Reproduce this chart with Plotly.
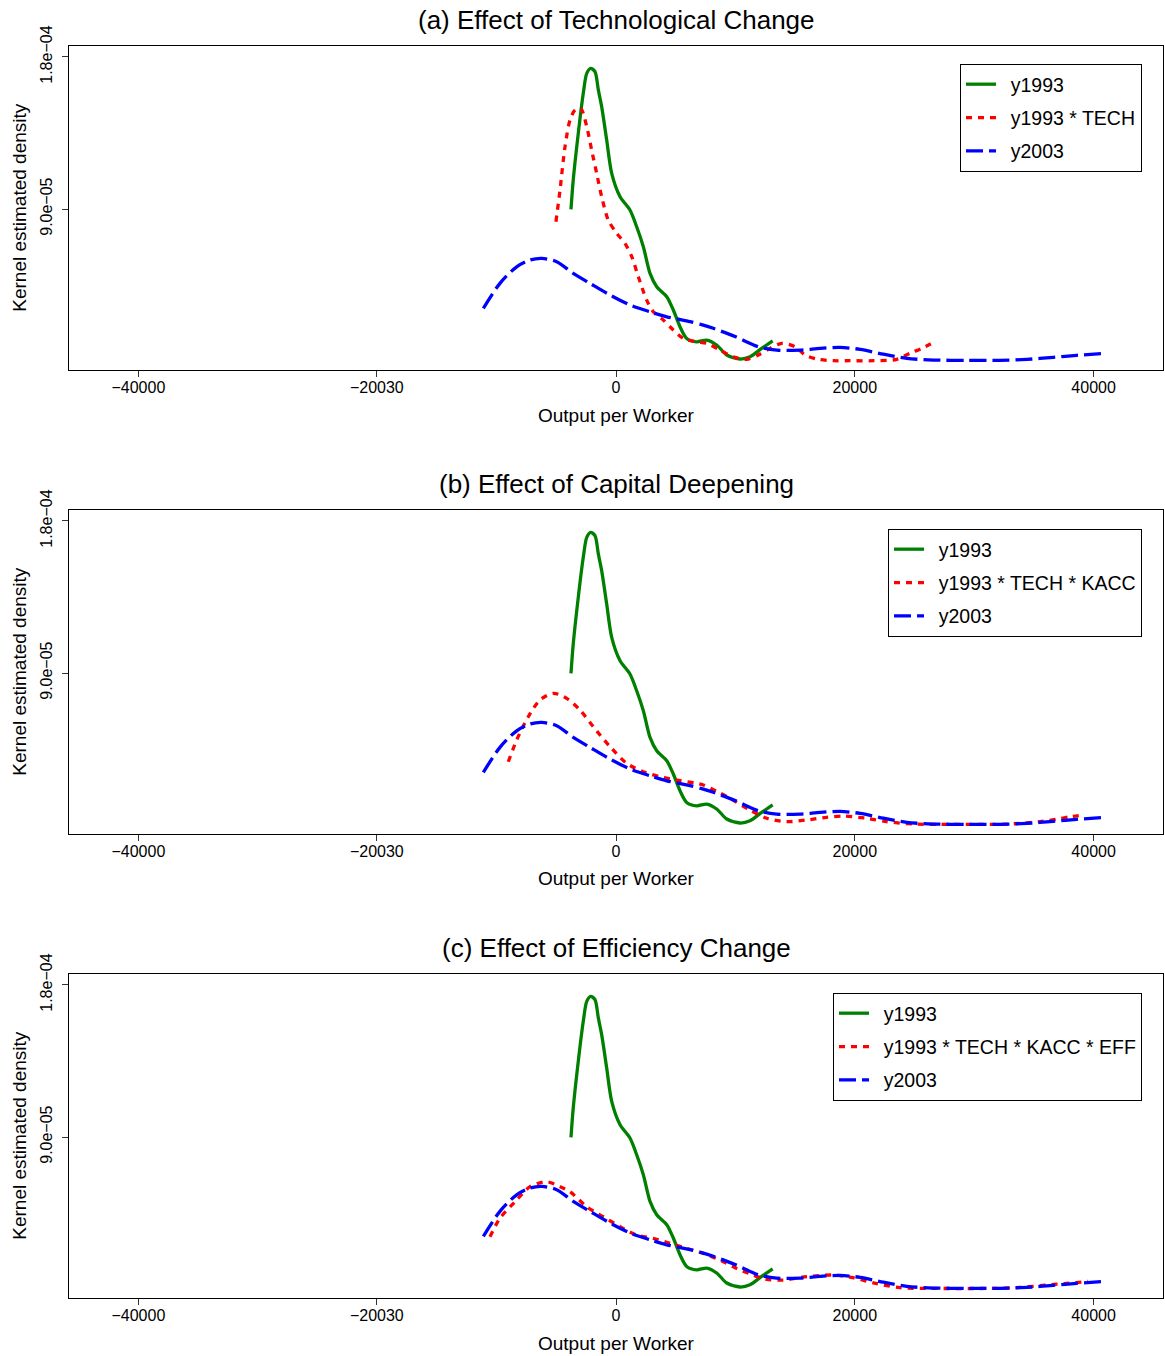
import plotly.graph_objects as go

# ---------------- data (density values in units of 1e-5) ----------------
DENSITY_UNIT = 1e-5

# y1993 (identical in every panel)
y1993_x = [-3770, -3580, -3160, -2740, -2450, -2120, -1760, -1480, -1200, -780, -360, 340,
           1170, 1730, 2290, 2850, 3410, 4250, 4800, 5360, 5920, 6760, 7600, 8430, 9270,
           10390, 11220, 12200, 13120]
y1993_d = [8.98, 10.72, 13.48, 15.85, 17.03, 17.33, 17.13, 16.05, 15.06, 13.09, 11.11, 9.73,
           8.94, 7.95, 6.77, 5.19, 4.40, 3.81, 3.02, 2.03, 1.34, 1.14, 1.24, 0.95, 0.36,
           0.12, 0.25, 0.75, 1.20]

# y2003 (identical in every panel)
y2003_x = [-11110, -9720, -8320, -7200, -6220, -4970, -3580, -2180, -500, 1170, 2850, 4250,
           6200, 7310, 8150, 9970, 11890, 13460, 15410, 17090, 18760, 20440, 22390, 24350,
           26570, 29370, 32160, 34400, 36620, 38580, 41100]
y2003_d = [3.12, 4.60, 5.58, 5.98, 6.08, 5.88, 5.19, 4.60, 3.91, 3.32, 2.92, 2.62,
           2.33, 2.13, 1.94, 1.45, 0.85, 0.65, 0.65, 0.75, 0.81, 0.69, 0.41, 0.16,
           0.06, 0.04, 0.04, 0.10, 0.22, 0.34, 0.46]

# y1993 * TECH
tech_x = [-5030, -4690, -4270, -3850, -3430, -2960, -2450, -2040, -1620, -1200, -650, 60,
          750, 1320, 1870, 2570, 3120, 3960, 4800, 5640, 6760, 7600, 8710, 9820, 10950,
          11920, 12900, 13880, 14990, 15830, 16940, 18200, 19600, 21550, 23510, 24620,
          25600, 26520]
tech_d = [8.25, 10.12, 12.69, 14.27, 14.86, 14.96, 13.87, 12.49, 11.11, 9.73, 8.35, 7.56,
          6.97, 6.18, 4.99, 3.61, 2.92, 2.43, 1.84, 1.34, 1.14, 1.05, 0.65, 0.25, 0.10,
          0.36, 0.75, 1.05, 0.85, 0.36, 0.10, 0.02, 0.02, 0.02, 0.10, 0.46,
          0.75, 1.08]

# y1993 * TECH * KACC
kacc_x = [-9020, -8320, -7350, -6370, -5250, -4130, -3020, -1900, -500, 900, 2290, 3690,
          5080, 6760, 7310, 8430, 9550, 11220, 12620, 14300, 15970, 17650, 19040, 21000,
          22670, 24900, 27140, 29920, 32160, 33840, 35510, 36910, 38020, 39140]
kacc_d = [3.75, 5.03, 6.41, 7.40, 7.80, 7.50, 6.81, 5.82, 4.64, 3.65, 3.16, 2.86,
          2.66, 2.47, 2.37, 2.00, 1.58, 0.89, 0.40, 0.20, 0.30, 0.46, 0.53, 0.40,
          0.20, 0.06, 0.04, 0.04, 0.04, 0.10, 0.20, 0.34, 0.49, 0.59]

# y1993 * TECH * KACC * EFF
eff_x = [-10550, -9720, -8320, -7200, -5800, -4690, -3850, -2450, -1060, 340, 1730, 3120,
         4520, 5920, 7310, 8710, 10110, 11220, 12620, 14010, 15970, 18200, 19870, 21550,
         23790, 26020, 31600, 33840, 36070, 37750, 39530]
eff_d = [3.10, 4.19, 5.27, 6.06, 6.35, 6.06, 5.76, 4.87, 4.28, 3.69, 3.20, 3.00,
         2.71, 2.41, 2.11, 1.72, 1.22, 0.90, 0.57, 0.53, 0.73, 0.83, 0.67, 0.37,
         0.08, 0.04, 0.04, 0.10, 0.24, 0.34, 0.45]

panel_titles = ["(a) Effect of Technological Change",
                "(b) Effect of Capital Deepening",
                "(c) Effect of Efficiency Change"]
counterfactual_names = ["y1993 * TECH", "y1993 * TECH * KACC", "y1993 * TECH * KACC * EFF"]
counterfactual_x = [tech_x, kacc_x, eff_x]
counterfactual_d = [tech_d, kacc_d, eff_d]

x_tickvals = [-40000, -20030, 0, 20000, 40000]
x_ticktext = ["\u221240000", "\u221220030", "0", "20000", "40000"]
y_tickvals = [9.0e-05, 1.8e-04]
y_ticktext = ["9.0e\u221205", "1.8e\u221204"]
x_label = "Output per Worker"
y_label = "Kernel estimated density"

# ---------------- layout geometry ----------------
W, H = 1165, 1356
FONT = "Liberation Sans, Arial, Helvetica, sans-serif"
L, R = 69, 2
plot_w = W - L - R
panel_top_px = [45.5, 509.5, 973.5]
panel_h_px = 324.5
title_px = [20, 484, 948]
xlab_px = [415, 879, 1343]
legend_top_px = [64, 529, 993]
legend_right_px = 1142
ylab_px = 20
GAP = "\u2002"  # spacing between legend key and its label


def py(p):
    return 1 - p / H


def scale(vals):
    return [v * DENSITY_UNIT for v in vals]


fig = go.Figure()
annotations = []
layout_axes = {}

for i in range(3):
    sfx = "" if i == 0 else str(i + 1)
    xa, ya = "x" + sfx, "y" + sfx
    leg = "legend" + sfx
    fig.add_trace(go.Scatter(
        x=y1993_x, y=scale(y1993_d), mode="lines", name=GAP + "y1993",
        line=dict(color="#008000", width=3.3, shape="spline", smoothing=0.8),
        xaxis=xa, yaxis=ya, legend=leg, legendgroup=f"g{i}a"))
    fig.add_trace(go.Scatter(
        x=counterfactual_x[i], y=scale(counterfactual_d[i]), mode="lines",
        name=GAP + counterfactual_names[i],
        line=dict(color="#FF0000", width=3.3, dash="6px,6px", shape="spline", smoothing=0.8),
        xaxis=xa, yaxis=ya, legend=leg, legendgroup=f"g{i}b"))
    fig.add_trace(go.Scatter(
        x=y2003_x, y=scale(y2003_d), mode="lines", name=GAP + "y2003",
        line=dict(color="#0000FF", width=3.3, dash="17px,6px", shape="spline", smoothing=0.8),
        xaxis=xa, yaxis=ya, legend=leg, legendgroup=f"g{i}c"))

    top = panel_top_px[i]
    bot = top + panel_h_px
    layout_axes["xaxis" + sfx] = dict(
        domain=[0, 1], anchor=ya, range=[-45811, 45811],
        tickvals=x_tickvals, ticktext=x_ticktext, ticks="outside", ticklen=6,
        tickcolor="#333", tickwidth=1, showgrid=False, zeroline=False,
        showline=True, linecolor="black", linewidth=1, mirror=True,
        ticklabelstandoff=-3,
        tickfont=dict(family=FONT, size=16, color="black"), automargin=False)
    layout_axes["yaxis" + sfx] = dict(
        domain=[py(bot), py(top)], anchor=xa, range=[-0.53e-5, 18.68e-5],
        tickvals=y_tickvals, ticktext=y_ticktext, ticks="outside", ticklen=6,
        tickcolor="#333", tickwidth=1, tickangle=-90, showgrid=False, zeroline=False,
        showline=True, linecolor="black", linewidth=1, mirror=True,
        ticklabelstandoff=4,
        tickfont=dict(family=FONT, size=16, color="black"), automargin=False)
    layout_axes[leg] = dict(
        x=(legend_right_px - L) / plot_w, xanchor="right",
        y=py(legend_top_px[i]), yanchor="top",
        bgcolor="white", bordercolor="black", borderwidth=1,
        itemwidth=30,
        font=dict(family=FONT, size=19.5, color="black"),
        traceorder="grouped", tracegroupgap=5)

    annotations.append(dict(text=panel_titles[i], xref="paper", yref="paper",
                            x=0.5, y=py(title_px[i]), xanchor="center", yanchor="middle",
                            showarrow=False, font=dict(family=FONT, size=26, color="black")))
    annotations.append(dict(text=x_label, xref="paper", yref="paper",
                            x=0.5, y=py(xlab_px[i]), xanchor="center", yanchor="middle",
                            showarrow=False, font=dict(family=FONT, size=19, color="black")))
    annotations.append(dict(text=y_label, xref="paper", yref="paper", textangle=-90,
                            x=(ylab_px - L) / plot_w, y=py((top + bot) / 2),
                            xanchor="center", yanchor="middle",
                            showarrow=False, font=dict(family=FONT, size=19, color="black")))

fig.update_layout(
    width=W, height=H,
    margin=dict(l=L, r=R, t=0, b=0, autoexpand=False),
    paper_bgcolor="white", plot_bgcolor="white",
    font=dict(family=FONT, color="black"),
    annotations=annotations,
    **layout_axes)

# remove the browser's default 8px page margin so the figure fills the window exactly
fig.write_html("out.html",
               config={"displayModeBar": False},
               post_script="document.body.style.margin='0';document.body.style.overflow='hidden';")
